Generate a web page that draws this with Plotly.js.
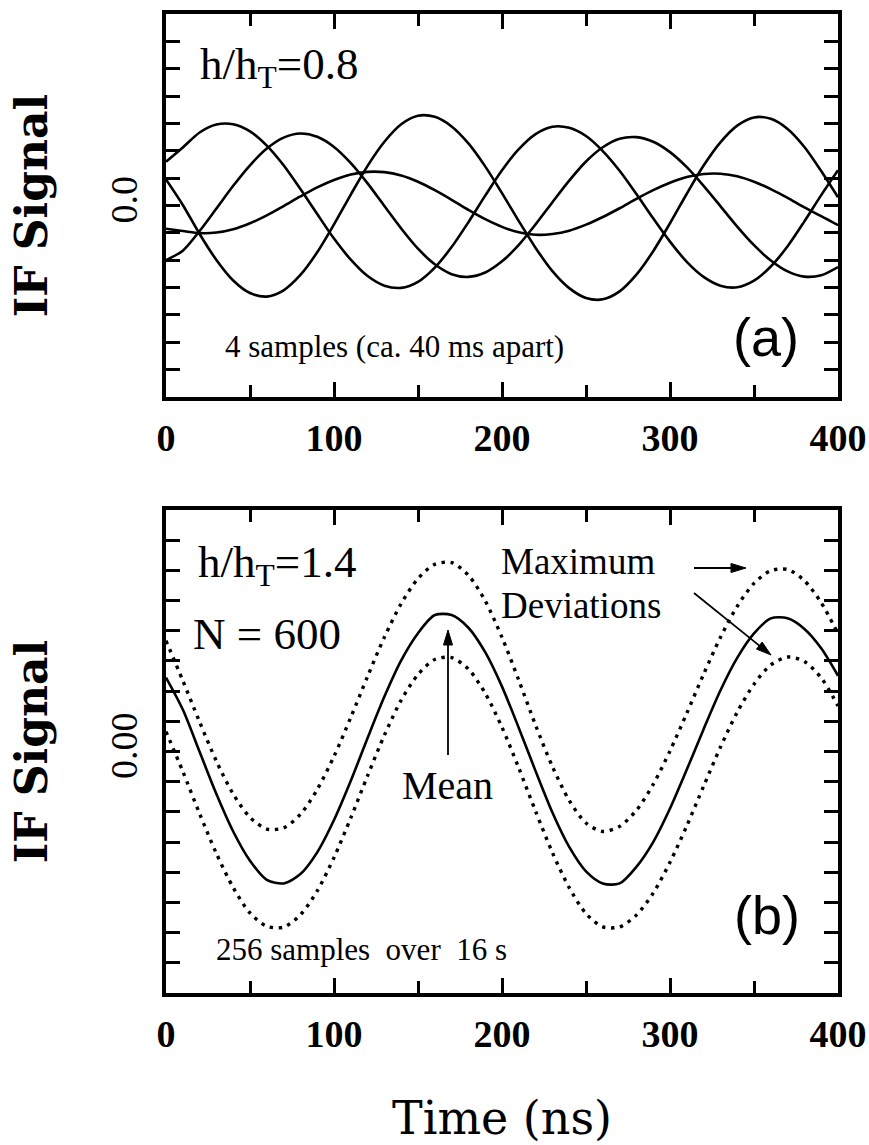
<!DOCTYPE html>
<html><head><meta charset="utf-8">
<script src="https://cdn.plot.ly/plotly-3.0.1.min.js"></script>
<style>html,body{margin:0;padding:0;background:#fff}</style>
</head><body><div id="chart" style="width:869px;height:1145px"></div>
<script>
// ---- data ----
const timeNs = [0,10,20,30,40,50,60,70,80,90,100,110,120,130,140,150,160,170,180,190,200,
  210,220,230,240,250,260,270,280,290,300,310,320,330,340,350,360,370,380,390,400];

// panel (a): four single samples
const sample1 = [1.6,2.12,2.67,2.96,2.97,2.71,2.19,1.47,0.60,-0.31,-1.21,-1.98,-2.58,-2.93,-3.01,-2.79,-2.27,-1.52,-0.61,0.36,1.29,
  2.06,2.61,2.88,2.84,2.54,1.99,1.27,0.42,-0.47,-1.32,-2.06,-2.61,-2.93,-2.99,-2.75,-2.23,-1.49,-0.58,0.38,1.29];
const sample2 = [-2.0,-1.65,-0.93,-0.11,0.72,1.47,2.08,2.48,2.63,2.51,2.14,1.55,0.81,-0.02,-0.84,-1.58,-2.15,-2.51,-2.61,-2.45,-2.04,
  -1.44,-0.69,0.12,0.91,1.61,2.13,2.44,2.50,2.33,1.95,1.40,0.72,-0.02,-0.77,-1.45,-2.01,-2.41,-2.60,-2.55,-2.25];
const sample3 = [0.95,0.02,-1.04,-1.99,-2.74,-3.20,-3.33,-3.10,-2.54,-1.71,-0.69,0.40,1.45,2.33,2.97,3.28,3.24,2.89,2.27,1.43,0.45,
  -0.57,-1.55,-2.40,-3.02,-3.38,-3.43,-3.14,-2.53,-1.67,-0.65,0.43,1.46,2.31,2.92,3.22,3.17,2.80,2.14,1.26,0.30];
const sample4 = [-0.85,-0.93,-1.01,-0.99,-0.87,-0.65,-0.36,-0.02,0.33,0.66,0.93,1.13,1.23,1.22,1.10,0.87,0.56,0.21,-0.16,-0.50,-0.78,
  -0.98,-1.07,-1.04,-0.92,-0.70,-0.42,-0.10,0.24,0.56,0.83,1.04,1.15,1.16,1.07,0.87,0.60,0.28,-0.07,-0.39,-0.72];

// panel (b): mean of 256 samples and maximum deviations
const meanSignal = [2.45,1.39,-0.01,-1.41,-2.65,-3.62,-4.25,-4.37,-4.06,-3.34,-2.27,-0.97,0.45,1.82,3.02,3.92,4.52,
  4.52,4.10,3.29,2.15,0.78,-0.65,-2.02,-3.16,-3.97,-4.37,-4.37,-3.82,-3.00,-1.89,-0.60,0.74,2.02,3.10,3.91,4.41,
  4.41,4.06,3.42,2.51];
const upperDeviation = [3.67,2.35,0.98,-0.32,-1.41,-2.18,-2.57,-2.53,-2.08,-1.26,-0.16,1.13,2.49,3.79,4.90,5.73,6.20,
  6.26,5.84,4.99,3.78,2.36,0.87,-0.50,-1.62,-2.37,-2.65,-2.48,-1.95,-1.09,0.02,1.27,2.56,3.78,4.81,5.57,5.99,
  6.03,5.66,4.93,3.90];
const lowerDeviation = [0.66,-0.66,-2.06,-3.38,-4.51,-5.35,-5.79,-5.82,-5.41,-4.62,-3.51,-2.20,-0.80,0.54,1.70,2.55,3.05,
  3.11,2.73,1.93,0.80,-0.55,-1.98,-3.35,-4.51,-5.37,-5.81,-5.81,-5.42,-4.69,-3.67,-2.46,-1.15,0.14,1.30,2.23,2.87,
  3.13,2.98,2.44,1.51];

// ticks
const xTickVals = [0,100,200,300,400];
const xMinorVals = [50,150,250,350];
const topMinorVals = [-6,-5,-4,-3,-2,-1,1,2,3,4,5,6];
const topZeroLabel = '0.0';
const botMinorVals = [-7,-6,-5,-4,-3,-2,-1,1,2,3,4,5,6,7];
const botZeroLabel = '0.00';

// ---- drawing ----
const W = 869, H = 1145;
const px = v => v / W;
const py = v => 1 - v / H;
const SERIF = 'Liberation Serif, serif';
const WIDE = 'DejaVu Serif, serif';
const SANS = 'Liberation Sans, Arial, sans-serif';

function solid(x, y, xa, ya) {
  return {x, y, xaxis: xa, yaxis: ya, type: 'scatter', mode: 'lines', hoverinfo: 'skip',
    showlegend: false, line: {color: '#000', width: 2.6, shape: 'spline', smoothing: 0.8}};
}
function dotted(x, y, xa, ya) {
  return {x, y, xaxis: xa, yaxis: ya, type: 'scatter', mode: 'lines', hoverinfo: 'skip',
    showlegend: false, line: {color: '#000', width: 3.4, dash: '3.4px,5.6px', shape: 'spline', smoothing: 0.8}};
}

const traces = [
  solid(timeNs, sample1, 'x', 'y'),
  solid(timeNs, sample2, 'x', 'y'),
  solid(timeNs, sample3, 'x', 'y'),
  solid(timeNs, sample4, 'x', 'y'),
  solid(timeNs, meanSignal, 'x2', 'y2'),
  dotted(timeNs, upperDeviation, 'x2', 'y2'),
  dotted(timeNs, lowerDeviation, 'x2', 'y2')
];

function xAxis(anchor, withTitle) {
  const a = {
    domain: [px(166), px(838)], anchor, range: [0, 400],
    tickmode: 'array', tickvals: xTickVals, ticktext: xTickVals.map(String),
    ticks: 'inside', ticklen: 15, tickwidth: 3, tickcolor: '#000',
    minor: {tickmode: 'array', tickvals: xMinorVals, ticks: 'inside', ticklen: 12, tickwidth: 3, tickcolor: '#000', showgrid: false},
    showline: true, linewidth: 4, linecolor: '#000', mirror: 'ticks',
    showgrid: false, zeroline: false, fixedrange: true,
    tickfont: {family: SERIF, size: 38, color: '#000', weight: 'bold'},
    ticklabelstandoff: 4
  };
  if (withTitle) a.title = {text: 'Time (ns)', font: {family: WIDE, size: 46, color: '#000'}, standoff: 52};
  return a;
}
function yAxis(anchor, dom, range, minorVals, zeroLabel) {
  return {
    domain: dom, anchor, range,
    tickmode: 'array', tickvals: [0], ticktext: [zeroLabel], tickangle: -90,
    ticks: 'inside', ticklen: 14, tickwidth: 3, tickcolor: '#000',
    minor: {tickmode: 'array', tickvals: minorVals, ticks: 'inside', ticklen: 14, tickwidth: 3, tickcolor: '#000', showgrid: false},
    showline: true, linewidth: 4, linecolor: '#000', mirror: 'ticks',
    showgrid: false, zeroline: false, fixedrange: true,
    tickfont: {family: SERIF, size: 38, color: '#000'},
    ticklabelstandoff: 10,
    title: {text: 'IF Signal', font: {family: WIDE, size: 44, color: '#000', weight: 'bold'}, standoff: 42}
  };
}

function txt(text, x, y, size, opts) {
  return Object.assign({text, xref: 'paper', yref: 'paper', x: px(x), y: py(y),
    xanchor: 'left', yanchor: 'middle', showarrow: false,
    font: {family: SERIF, size, color: '#000'}}, opts || {});
}
// arrow drawn as shapes: shaft plus a filled head (pixel geometry converted to paper units)
function arrowShapes(tx, ty, hx, hy) {
  const dx = hx - tx, dy = hy - ty, len = Math.hypot(dx, dy);
  const ux = dx / len, uy = dy / len, L = 15, Wd = 4.5;
  const bx = hx - ux * L, by = hy - uy * L;
  const p1 = [bx - uy * Wd, by + ux * Wd], p2 = [bx + uy * Wd, by - ux * Wd];
  return [
    {type: 'line', xref: 'paper', yref: 'paper', x0: px(tx), y0: py(ty), x1: px(bx), y1: py(by),
      line: {color: '#000', width: 1.8}},
    {type: 'path', xref: 'paper', yref: 'paper',
      path: `M ${px(hx)},${py(hy)} L ${px(p1[0])},${py(p1[1])} L ${px(p2[0])},${py(p2[1])} Z`,
      fillcolor: '#000', line: {color: '#000', width: 1}}
  ];
}

const annotations = [
  txt('h/h<sub>T</sub>=0.8', 198, 67, 45),
  txt('4 samples (ca. 40 ms apart)', 223, 346, 31),
  txt('(a)', 766, 337, 54, {xanchor: 'center', font: {family: SANS, size: 54, color: '#000'}}),
  txt('h/h<sub>T</sub>=1.4', 196, 565, 45),
  txt('N = 600', 191, 634, 45),
  txt('Maximum', 499, 561, 37),
  txt('Deviations', 499, 605, 37),
  txt('Mean', 400, 785, 40),
  txt('256 samples\u00a0 over\u00a0 16 s', 214, 949, 31),
  txt('(b)', 767, 915, 54, {xanchor: 'center', font: {family: SANS, size: 54, color: '#000'}})
];

const shapes = [].concat(
  arrowShapes(694, 568, 746, 568),
  arrowShapes(694, 593, 771, 655),
  arrowShapes(448, 755, 448, 630)
);

const layout = {
  width: W, height: H, margin: {l: 0, r: 0, t: 0, b: 0},
  paper_bgcolor: '#fff', plot_bgcolor: '#fff',
  font: {family: SERIF, color: '#000'},
  showlegend: false,
  xaxis: xAxis('y', false),
  yaxis: yAxis('x', [py(397), py(14)], [-7, 7], topMinorVals, topZeroLabel),
  xaxis2: xAxis('y2', true),
  yaxis2: yAxis('x2', [py(993), py(510)], [-8, 8], botMinorVals, botZeroLabel),
  annotations, shapes
};

Plotly.newPlot('chart', traces, layout, {staticPlot: true, displayModeBar: false});
</script></body></html>
